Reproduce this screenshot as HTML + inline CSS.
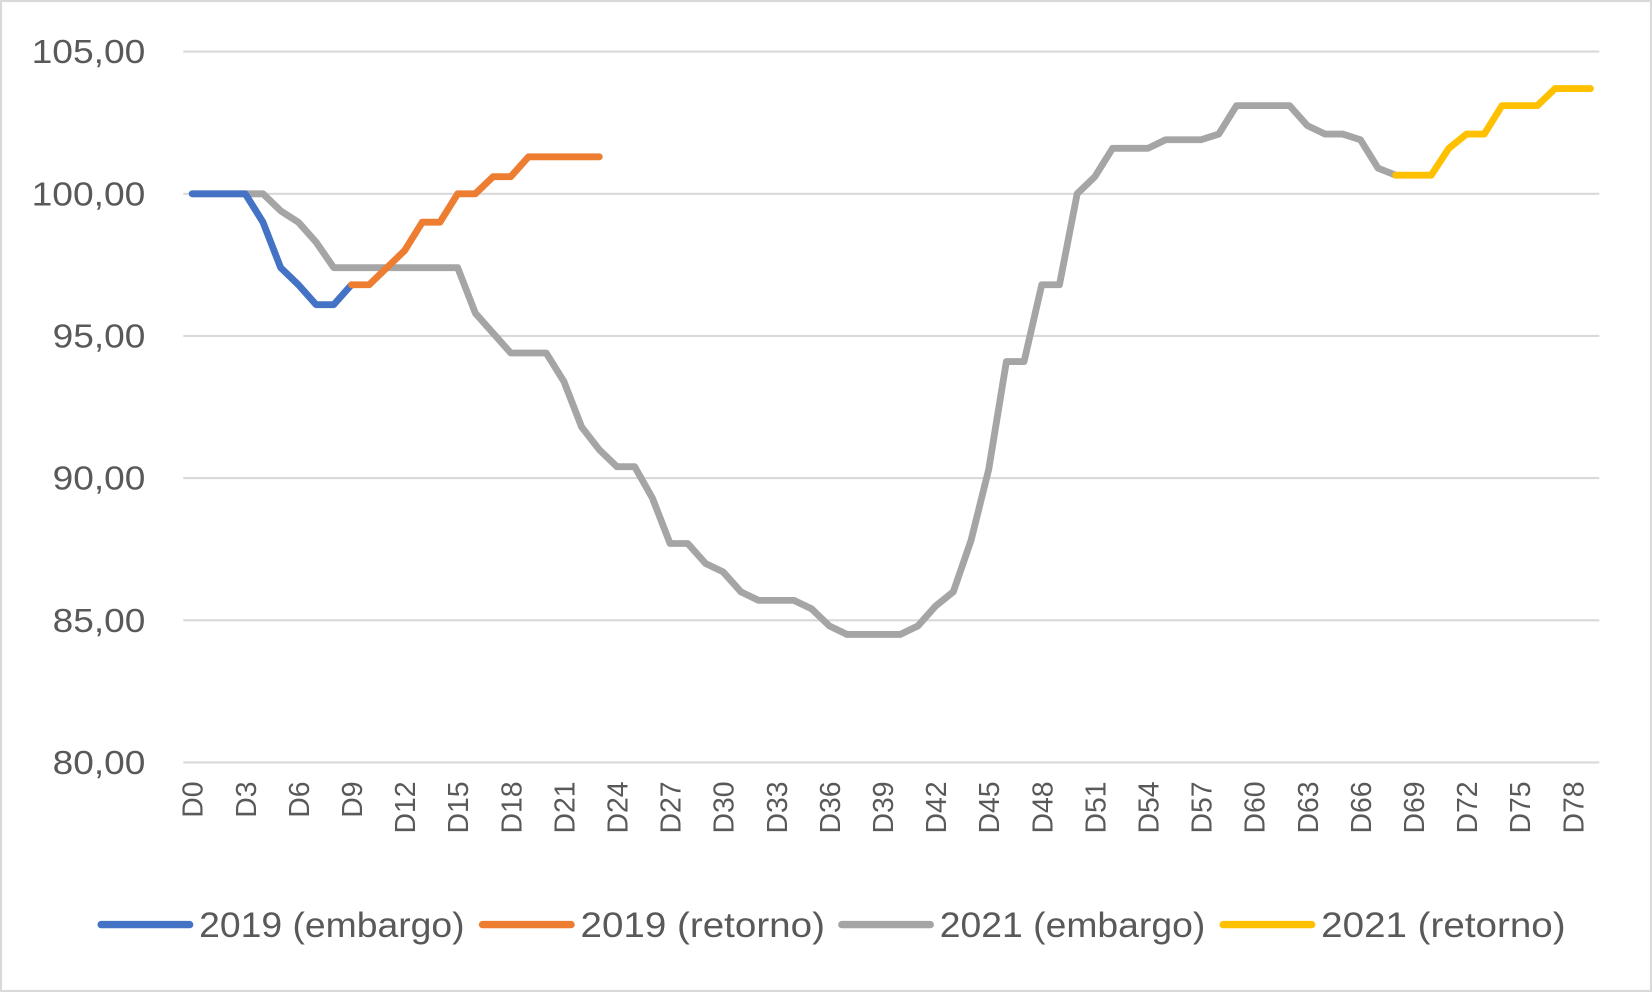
<!DOCTYPE html>
<html><head><meta charset="utf-8"><style>
html,body{margin:0;padding:0;background:#fff}
svg{display:block}
text{font-family:"Liberation Sans",sans-serif;fill:#595959}
</style></head><body>
<svg id="s" width="1652" height="992" viewBox="0 0 1568 942" preserveAspectRatio="none">
<rect x="1" y="1" width="1566" height="940" fill="#fff" stroke="#d9d9d9" stroke-width="2"/>
<g stroke="#d9d9d9" stroke-width="2">
<line x1="174" x2="1518" y1="49" y2="49"/><line x1="174" x2="1518" y1="184" y2="184"/>
<line x1="174" x2="1518" y1="319" y2="319"/><line x1="174" x2="1518" y1="454" y2="454"/>
<line x1="174" x2="1518" y1="589" y2="589"/><line x1="174" x2="1518" y1="724" y2="724"/>
</g>
<g font-size="32" lengthAdjust="spacingAndGlyphs">
<text x="30" y="60" textLength="108" lengthAdjust="spacingAndGlyphs">105,00</text>
<text x="30" y="195" textLength="108" lengthAdjust="spacingAndGlyphs">100,00</text>
<text x="50" y="330" textLength="88" lengthAdjust="spacingAndGlyphs">95,00</text>
<text x="50" y="465" textLength="88" lengthAdjust="spacingAndGlyphs">90,00</text>
<text x="50" y="600" textLength="88" lengthAdjust="spacingAndGlyphs">85,00</text>
<text x="50" y="735" textLength="88" lengthAdjust="spacingAndGlyphs">80,00</text>
</g>
<g id="xl" font-size="27" text-anchor="end"></g>
<g id="lines" fill="none" stroke-width="6.5" stroke-linejoin="round" stroke-linecap="round"></g>
<g font-size="33">
<line x1="96" x2="180" y1="878" y2="878" stroke="#4472c4" stroke-width="7" stroke-linecap="round"/>
<text x="189" y="890" textLength="252" lengthAdjust="spacingAndGlyphs">2019 (embargo)</text>
<line x1="458" x2="542" y1="878" y2="878" stroke="#ed7d31" stroke-width="7" stroke-linecap="round"/>
<text x="551" y="890" textLength="232" lengthAdjust="spacingAndGlyphs">2019 (retorno)</text>
<line x1="799" x2="883" y1="878" y2="878" stroke="#a5a5a5" stroke-width="7" stroke-linecap="round"/>
<text x="892" y="890" textLength="252" lengthAdjust="spacingAndGlyphs">2021 (embargo)</text>
<line x1="1161" x2="1245" y1="878" y2="878" stroke="#ffc000" stroke-width="7" stroke-linecap="round"/>
<text x="1254" y="890" textLength="232" lengthAdjust="spacingAndGlyphs">2021 (retorno)</text>
</g>
</svg>
<script>
var NS="http://www.w3.org/2000/svg";
function X(k){return 182.4+16.8*k;}
function Y(v){return 184-(v-100)*27;}
var xl=document.getElementById('xl');
for(var k=0;k<=78;k+=3){var t=document.createElementNS(NS,'text');var x=X(k)+10;
t.setAttribute('transform','translate('+x+',742) rotate(-90)');t.textContent='D'+k;xl.appendChild(t);}
function line(start,vals,color){var p=[];for(var i=0;i<vals.length;i++)p.push(X(start+i).toFixed(1)+','+Y(vals[i]).toFixed(1));
var e=document.createElementNS(NS,'polyline');e.setAttribute('points',p.join(' '));e.setAttribute('stroke',color);document.getElementById('lines').appendChild(e);}
line(0,[100,100,100,100,100,99.4,99.0,98.3,97.4,97.4,97.4,97.4,97.4,97.4,97.4,97.4,95.8,95.1,94.4,94.4,94.4,93.4,91.8,91.0,90.4,90.4,89.3,87.7,87.7,87.0,86.7,86.0,85.7,85.7,85.7,85.4,84.8,84.5,84.5,84.5,84.5,84.8,85.5,86.0,87.8,90.3,94.1,94.1,96.8,96.8,100,100.6,101.6,101.6,101.6,101.9,101.9,101.9,102.1,103.1,103.1,103.1,103.1,102.4,102.1,102.1,101.9,100.9,100.65],'#a5a5a5');
line(0,[100,100,100,100,99.0,97.4,96.8,96.1,96.1,96.8],'#4472c4');
line(9,[96.8,96.8,97.4,98.0,99.0,99.0,100,100,100.6,100.6,101.3,101.3,101.3,101.3,101.3],'#ed7d31');
line(68,[100.65,100.65,100.65,101.6,102.1,102.1,103.1,103.1,103.1,103.7,103.7,103.7],'#ffc000');
</script>
</body></html>
